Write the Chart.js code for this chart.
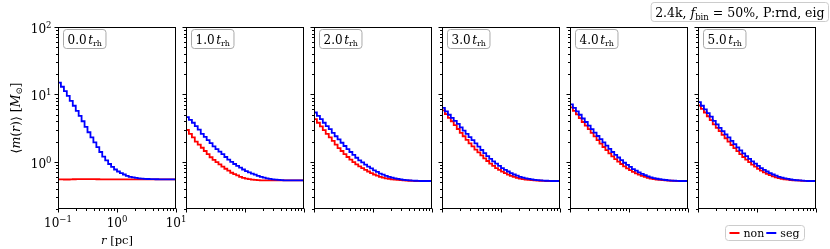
<!DOCTYPE html>
<html>
<head>
<meta charset="utf-8">
<script src="https://cdn.jsdelivr.net/npm/chart.js@4.4.1/dist/chart.umd.min.js"></script>
<style>
  html, body { margin: 0; padding: 0; background: #fff; }
  #wrap { position: relative; width: 830px; height: 249px; }
  #wrap canvas { position: absolute; left: 0; top: 0; }
</style>
</head>
<body>
<div id="wrap"></div>
<script>
// bin edges in r [pc], 0.05 dex apart
const R_EDGES = [0.1, 0.112, 0.126, 0.141, 0.158, 0.178, 0.2, 0.224, 0.251, 0.282,
  0.316, 0.355, 0.398, 0.447, 0.501, 0.562, 0.631, 0.708, 0.794, 0.891,
  1, 1.12, 1.26, 1.41, 1.58, 1.78, 2, 2.24, 2.51, 2.82,
  3.16, 3.55, 3.98, 4.47, 5.01, 5.62, 6.31, 7.08, 7.94, 8.91, 10];

const SNAPSHOTS = ["0.0", "1.0", "2.0", "3.0", "4.0", "5.0"];

// <m(r)> per bin, mass-segregated ("seg") and non-segregated ("non") runs
const SEG_0 = [15, 13, 11.2, 9.5, 8.0, 6.8, 5.7, 4.8, 4.0, 3.3,
  2.75, 2.3, 1.95, 1.65, 1.4, 1.2, 1.05, 0.93, 0.84, 0.77,
  0.72, 0.68, 0.65, 0.62, 0.60, 0.59, 0.58, 0.57, 0.565, 0.56,
  0.557, 0.555, 0.553, 0.552, 0.551, 0.55, 0.55, 0.55, 0.55, 0.55];
const NON_0 = [0.55, 0.55, 0.548, 0.548, 0.55, 0.552, 0.553, 0.555, 0.556, 0.556,
  0.555, 0.554, 0.553, 0.552, 0.551, 0.55, 0.55, 0.55, 0.55, 0.55,
  0.55, 0.55, 0.55, 0.55, 0.55, 0.55, 0.55, 0.55, 0.55, 0.55,
  0.55, 0.55, 0.55, 0.55, 0.55, 0.55, 0.55, 0.55, 0.55, 0.55];

const SEG_1 = [4.6, 4.2, 3.8, 3.4, 3.0, 2.6, 2.35, 2.1, 1.9, 1.7,
  1.55, 1.42, 1.3, 1.18, 1.08, 1.0, 0.93, 0.87, 0.82, 0.77,
  0.73, 0.70, 0.67, 0.645, 0.62, 0.60, 0.585, 0.57, 0.56, 0.55,
  0.545, 0.54, 0.535, 0.533, 0.531, 0.53, 0.53, 0.53, 0.53, 0.53];
const NON_1 = [2.97, 2.6, 2.3, 2.0, 1.8, 1.62, 1.45, 1.3, 1.17, 1.07,
  0.99, 0.92, 0.85, 0.79, 0.74, 0.69, 0.66, 0.63, 0.6, 0.58,
  0.565, 0.555, 0.545, 0.54, 0.535, 0.533, 0.531, 0.53, 0.53, 0.53,
  0.53, 0.53, 0.53, 0.53, 0.53, 0.53, 0.53, 0.53, 0.53, 0.53];

const SEG_2 = [5.4, 4.8, 4.3, 3.8, 3.4, 3.05, 2.7, 2.4, 2.15, 1.92,
  1.72, 1.55, 1.4, 1.27, 1.15, 1.05, 0.98, 0.91, 0.85, 0.8,
  0.75, 0.71, 0.67, 0.645, 0.62, 0.60, 0.585, 0.57, 0.56, 0.55,
  0.54, 0.535, 0.53, 0.527, 0.525, 0.522, 0.52, 0.52, 0.52, 0.52];
const NON_2 = [4.3, 3.8, 3.35, 2.95, 2.6, 2.3, 2.05, 1.8, 1.6, 1.45,
  1.3, 1.18, 1.08, 0.99, 0.92, 0.86, 0.81, 0.76, 0.72, 0.68,
  0.65, 0.625, 0.6, 0.585, 0.57, 0.56, 0.55, 0.545, 0.54, 0.535,
  0.53, 0.527, 0.525, 0.522, 0.52, 0.52, 0.52, 0.52, 0.52, 0.52];

const SEG_3 = [6.3, 5.6, 5.0, 4.5, 4.05, 3.65, 3.25, 2.9, 2.6, 2.32,
  2.1, 1.88, 1.68, 1.5, 1.35, 1.22, 1.11, 1.02, 0.94, 0.87,
  0.81, 0.76, 0.72, 0.68, 0.65, 0.625, 0.6, 0.585, 0.57, 0.558,
  0.55, 0.54, 0.535, 0.53, 0.527, 0.525, 0.522, 0.52, 0.52, 0.52];
const NON_3 = [5.8, 5.1, 4.5, 4.0, 3.5, 3.07, 2.7, 2.4, 2.12, 1.88,
  1.7, 1.52, 1.38, 1.25, 1.13, 1.03, 0.94, 0.87, 0.81, 0.76,
  0.715, 0.68, 0.645, 0.62, 0.6, 0.58, 0.565, 0.555, 0.545, 0.54,
  0.535, 0.53, 0.527, 0.525, 0.522, 0.52, 0.52, 0.52, 0.52, 0.52];

const SEG_4 = [7.1, 6.3, 5.6, 5.0, 4.4, 3.9, 3.45, 3.05, 2.72, 2.42,
  2.17, 1.95, 1.74, 1.56, 1.4, 1.27, 1.16, 1.06, 0.97, 0.9,
  0.84, 0.78, 0.74, 0.7, 0.665, 0.635, 0.61, 0.59, 0.575, 0.562,
  0.552, 0.545, 0.538, 0.532, 0.528, 0.525, 0.522, 0.52, 0.52, 0.52];
const NON_4 = [6.45, 5.7, 5.05, 4.45, 3.9, 3.45, 3.05, 2.7, 2.38, 2.1,
  1.86, 1.66, 1.49, 1.34, 1.21, 1.1, 1.01, 0.93, 0.86, 0.8,
  0.755, 0.71, 0.675, 0.645, 0.62, 0.6, 0.58, 0.565, 0.555, 0.547,
  0.54, 0.535, 0.53, 0.527, 0.525, 0.522, 0.52, 0.52, 0.52, 0.52];

const SEG_5 = [7.7, 6.8, 6.0, 5.3, 4.7, 4.05, 3.6, 3.2, 2.85, 2.55,
  2.3, 2.05, 1.83, 1.64, 1.48, 1.34, 1.22, 1.11, 1.02, 0.94,
  0.87, 0.81, 0.76, 0.72, 0.68, 0.65, 0.625, 0.6, 0.585, 0.57,
  0.558, 0.548, 0.54, 0.534, 0.53, 0.526, 0.523, 0.52, 0.52, 0.52];
const NON_5 = [6.85, 6.1, 5.4, 4.75, 4.15, 3.6, 3.2, 2.85, 2.52, 2.24,
  2.0, 1.78, 1.6, 1.44, 1.3, 1.18, 1.08, 0.99, 0.91, 0.85,
  0.79, 0.74, 0.7, 0.665, 0.635, 0.61, 0.59, 0.575, 0.562, 0.552,
  0.545, 0.538, 0.533, 0.53, 0.527, 0.524, 0.522, 0.52, 0.52, 0.52];

const SEG = [SEG_0, SEG_1, SEG_2, SEG_3, SEG_4, SEG_5];
const NON = [NON_0, NON_1, NON_2, NON_3, NON_4, NON_5];

// tick values and labels
const X_MAJOR = [0.1, 1, 10];
const X_MAJOR_EXP = ["\u22121", "0", "1"];
const X_MINOR = [0.2, 0.3, 0.4, 0.5, 0.6, 0.7, 0.8, 0.9, 2, 3, 4, 5, 6, 7, 8, 9];
const Y_MAJOR = [1, 10, 100];
const Y_MAJOR_EXP = ["0", "1", "2"];
const Y_MINOR = [0.2, 0.3, 0.4, 0.5, 0.6, 0.7, 0.8, 0.9, 2, 3, 4, 5, 6, 7, 8, 9,
  20, 30, 40, 50, 60, 70, 80, 90];

const W = 830, H = 249;
const PANEL_LEFT = 58, PANEL_STEP = 128, PANEL_W = 118;
const PANEL_TOP = 27, PANEL_BOTTOM = 209;
const SERIF = '"DejaVu Serif", "Liberation Serif", serif';

function setFont(ctx, p) {
  ctx.font = `${p.it ? "italic " : ""}${p.s}px ${SERIF}`;
}

// draw a run of text pieces (size, italic, vertical shift) on one baseline
function drawRich(ctx, parts, x, y, align = "left") {
  const w = richWidth(ctx, parts);
  let cx = align === "center" ? x - w / 2 : align === "right" ? x - w : x;
  ctx.textAlign = "left";
  ctx.textBaseline = "alphabetic";
  for (const p of parts) {
    setFont(ctx, p);
    ctx.fillText(p.t, cx, y + (p.dy || 0));
    cx += ctx.measureText(p.t).width;
  }
  return w;
}

function richWidth(ctx, parts) {
  let w = 0;
  for (const p of parts) { setFont(ctx, p); w += ctx.measureText(p.t).width; }
  return w;
}

function roundBox(ctx, x, y, w, h, r, stroke) {
  ctx.beginPath();
  ctx.roundRect(x, y, w, h, r);
  ctx.fillStyle = "rgba(255,255,255,0.9)";
  ctx.fill();
  ctx.strokeStyle = stroke;
  ctx.lineWidth = 1;
  ctx.stroke();
}

const mplAxes = {
  id: "mplAxes",
  afterDatasetsDraw(chart, args, opts) {
    const { ctx, chartArea: a, scales: { x, y } } = chart;
    const L = Math.round(a.left) + 0.5, R = Math.round(a.right) - 0.5;
    const T = Math.round(a.top) + 0.5, B = Math.round(a.bottom) - 0.5;
    ctx.save();

    // spines
    ctx.strokeStyle = "#000";
    ctx.lineWidth = 1;
    ctx.strokeRect(L, T, R - L, B - T);

    // ticks, outward
    ctx.beginPath();
    for (const v of X_MAJOR) { const px = Math.round(x.getPixelForValue(v)) + 0.5; ctx.moveTo(px, B); ctx.lineTo(px, B + 4); }
    for (const v of X_MINOR) { const px = Math.round(x.getPixelForValue(v)) + 0.5; ctx.moveTo(px, B); ctx.lineTo(px, B + 2.5); }
    for (const v of Y_MAJOR) { const py = Math.round(y.getPixelForValue(v)) + 0.5; ctx.moveTo(L, py); ctx.lineTo(L - 4, py); }
    for (const v of Y_MINOR) { const py = Math.round(y.getPixelForValue(v)) + 0.5; ctx.moveTo(L, py); ctx.lineTo(L - 2.5, py); }
    ctx.stroke();

    ctx.fillStyle = "#000";
    if (opts.panel === 0) {
      // tick labels
      X_MAJOR.forEach((v, k) => {
        const parts = [{ t: "10", s: 12 }, { t: X_MAJOR_EXP[k], s: 8.5, dy: -5 }];
        drawRich(ctx, parts, x.getPixelForValue(v), B + 18, "center");
      });
      Y_MAJOR.forEach((v, k) => {
        const parts = [{ t: "10", s: 12 }, { t: Y_MAJOR_EXP[k], s: 8.5, dy: -5 }];
        drawRich(ctx, parts, L - 7, y.getPixelForValue(v) + 6, "right");
      });
      // axis titles
      drawRich(ctx, [{ t: "r", s: 11.5, it: true }, { t: " [pc]", s: 11.5 }], (L + R) / 2, 244, "center");
      ctx.save();
      ctx.translate(20, (T + B) / 2);
      ctx.rotate(-Math.PI / 2);
      drawRich(ctx, [
        { t: "\u27e8", s: 12.5 }, { t: "m", s: 12.5, it: true }, { t: "(", s: 12.5 },
        { t: "r", s: 12.5, it: true }, { t: ")\u27e9 [", s: 12.5 },
        { t: "M", s: 12.5, it: true }, { t: "\u2299", s: 8.5, dy: 2 }, { t: "]", s: 12.5 }
      ], 0, 0, "center");
      ctx.restore();
    }

    // snapshot label box
    const lab = [{ t: SNAPSHOTS[opts.panel], s: 12 }, { t: " ", s: 5 },
      { t: "t", s: 12, it: true }, { t: "rh", s: 8, dy: 2 }];
    const lw = richWidth(ctx, lab);
    roundBox(ctx, L + 5, 29.5, lw + 8, 19, 3, "#aaa");
    ctx.fillStyle = "#000";
    drawRich(ctx, lab, L + 9, 43.5);

    if (opts.panel === 5) {
      // run description, top right
      const info = [{ t: "2.4k, ", s: 12.5 }, { t: "f", s: 12.5, it: true }, { t: "bin", s: 8.5, dy: 2.5 },
        { t: " = 50%, P:rnd, eig", s: 12.5 }];
      const iw = richWidth(ctx, info);
      roundBox(ctx, 828.5 - iw - 8, 2.5, iw + 8, 19, 3, "#ccc");
      ctx.fillStyle = "#000";
      drawRich(ctx, info, 828.5 - iw - 4, 17);

      // legend
      const lx = 725.5, ly = 225.5;
      const items = [["non", "#ff0000"], ["seg", "#0000ff"]];
      ctx.font = `11px ${SERIF}`;
      const tw = items.map(([t]) => ctx.measureText(t).width);
      const bw = 4 + 10 + 4 + tw[0] + 2 + 10 + 4 + tw[1] + 5;
      roundBox(ctx, lx, ly, bw, 15, 3, "#ccc");
      let cx = lx + 4;
      items.forEach(([t, c], k) => {
        ctx.strokeStyle = c;
        ctx.lineWidth = 2;
        ctx.beginPath(); ctx.moveTo(cx, ly + 7.5); ctx.lineTo(cx + 10, ly + 7.5); ctx.stroke();
        cx += 14;
        ctx.fillStyle = "#000";
        drawRich(ctx, [{ t, s: 11 }], cx, ly + 11.5);
        cx += tw[k] + 2;
      });
    }
    ctx.restore();
  }
};

const wrap = document.getElementById("wrap");

function stepPoints(vals) {
  return R_EDGES.map((r, k) => ({ x: r, y: vals[Math.min(k, vals.length - 1)] }));
}

function panelChart(i) {
  const cv = document.createElement("canvas");
  cv.width = W; cv.height = H;
  wrap.appendChild(cv);
  const left = PANEL_LEFT + i * PANEL_STEP;
  const line = { stepped: "before", pointRadius: 0, borderWidth: 1.8, fill: false, tension: 0 };
  new Chart(cv, {
    type: "line",
    data: {
      datasets: [
        { label: "seg", data: stepPoints(SEG[i]), borderColor: "#0000ff", order: 0, ...line },
        { label: "non", data: stepPoints(NON[i]), borderColor: "#ff0000", order: 1, ...line },
      ],
    },
    options: {
      responsive: false,
      animation: false,
      events: [],
      layout: { padding: { left, right: W - left - PANEL_W, top: PANEL_TOP, bottom: H - PANEL_BOTTOM } },
      scales: {
        x: { type: "logarithmic", min: 0.1, max: 10, display: false },
        y: { type: "logarithmic", min: 0.2, max: 100, display: false },
      },
      plugins: {
        legend: { display: false },
        tooltip: { enabled: false },
        mplAxes: { panel: i },
      },
    },
    plugins: [mplAxes],
  });
}

SNAPSHOTS.forEach((_, i) => panelChart(i));
</script>
</body>
</html>
